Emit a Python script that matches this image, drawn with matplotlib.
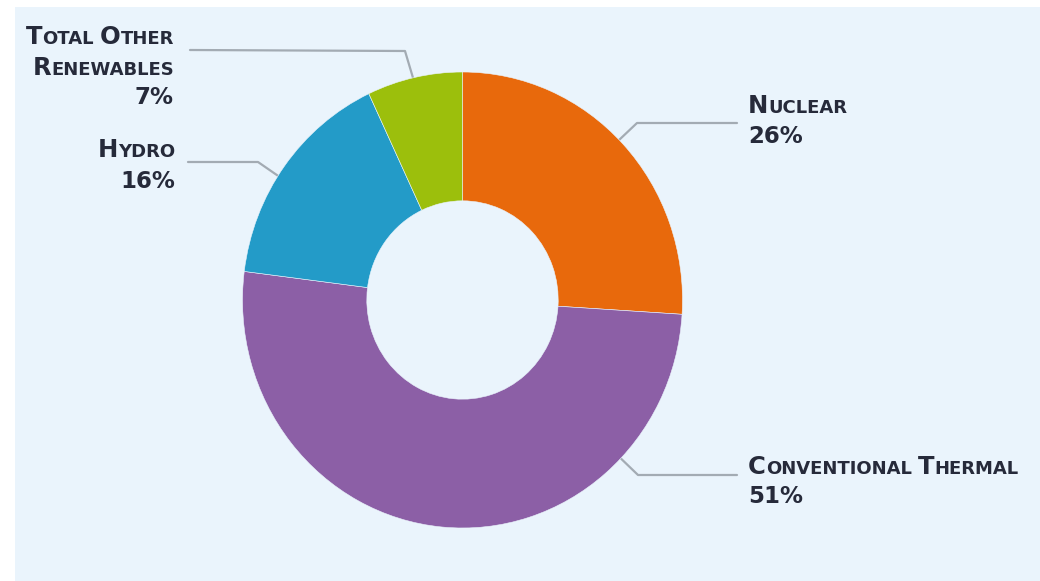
import numpy as np
import matplotlib
matplotlib.use("Agg")
import matplotlib.pyplot as plt
from matplotlib.patches import Rectangle

# data
labels = ["Nuclear", "Conventional Thermal", "Hydro", "Total Other Renewables"]
shares = [26, 51, 16, 7]
colors = ["#e8690c", "#8c5fa6", "#239bc8", "#9cbf0c"]

bg = "#eaf4fc"
txt_col = "#262a3a"
line_col = "#a3abb3"
FONT = ["DejaVu Sans"]

fig = plt.figure(figsize=(10.4, 5.81), dpi=100)
fig.patch.set_facecolor("white")

# overlay in pixel coords (y down)
ov = fig.add_axes([0, 0, 1, 1])
ov.set_xlim(0, 1040)
ov.set_ylim(581, 0)
ov.axis("off")
ov.add_patch(Rectangle((15, 7), 1040, 600, facecolor=bg, edgecolor="none"))

# donut
cx, cy, rx, ry = 462.5, 300, 220, 228
pax = fig.add_axes([(cx - rx) / 1040, (581 - cy - ry) / 581, 2 * rx / 1040, 2 * ry / 581])
pax.pie(shares, colors=colors, startangle=90, counterclock=False, radius=1,
        wedgeprops=dict(width=0.565, edgecolor=bg, linewidth=0.4))
pax.set_aspect("auto")
pax.set_xlim(-1, 1)
pax.set_ylim(-1, 1)
pax.axis("off")

renderer = fig.canvas.get_renderer()


def small_caps(x, y, s, ha="left", big=17.5, small=13):
    parts = []
    for w_i, word in enumerate(s.split(" ")):
        if w_i > 0:
            parts.append((" ", small))
        parts.append((word[0].upper(), big))
        if len(word) > 1:
            parts.append((word[1:].upper(), small))
    objs = []
    widths = []
    for p, size in parts:
        t = ov.text(0, y, p, fontsize=size, fontweight="bold", family=FONT,
                    color=txt_col, va="baseline", ha="left")
        objs.append(t)
        widths.append(t.get_window_extent(renderer).width)
    total = sum(widths)
    x0 = x - total if ha == "right" else x
    for t, w in zip(objs, widths):
        t.set_x(x0)
        x0 += w


def pct(x, y, s, ha="left"):
    ov.text(x, y, s, fontsize=16.5, fontweight="bold", family=FONT,
            color=txt_col, va="baseline", ha=ha)


# label layout: anchor angle on the ring, elbow, line end, text
layout = {
    "Nuclear": dict(ang=44.6, elbow=(637, 123), end=(737, 123), tx=748, ty=[113, 143], ha="left"),
    "Conventional Thermal": dict(ang=-44, elbow=(638, 475), end=(737, 475), tx=748, ty=[474, 503], ha="left"),
    "Hydro": dict(ang=147, elbow=(258, 162), end=(188, 162), tx=175, ty=[157, 188], ha="right"),
    "Total Other Renewables": dict(ang=103, elbow=(405, 51), end=(190, 50), tx=174, ty=[44, 75, 104], ha="right"),
}

for lab, val in zip(labels, shares):
    L = layout[lab]
    a = np.deg2rad(L["ang"])
    ax_pt = (cx + rx * np.cos(a), cy - ry * np.sin(a))
    ov.plot([ax_pt[0], L["elbow"][0], L["end"][0]], [ax_pt[1], L["elbow"][1], L["end"][1]],
            color=line_col, lw=1.6, solid_capstyle="round", zorder=1)
    if lab == "Total Other Renewables":
        small_caps(L["tx"], L["ty"][0], "Total Other", ha="right")
        small_caps(L["tx"], L["ty"][1], "Renewables", ha="right")
        pct(L["tx"], L["ty"][2], f"{val}%", ha="right")
    else:
        small_caps(L["tx"], L["ty"][0], lab, ha=L["ha"])
        pct(L["tx"], L["ty"][1], f"{val}%", ha=L["ha"])

fig.savefig("out.png", dpi=100, facecolor="white")
